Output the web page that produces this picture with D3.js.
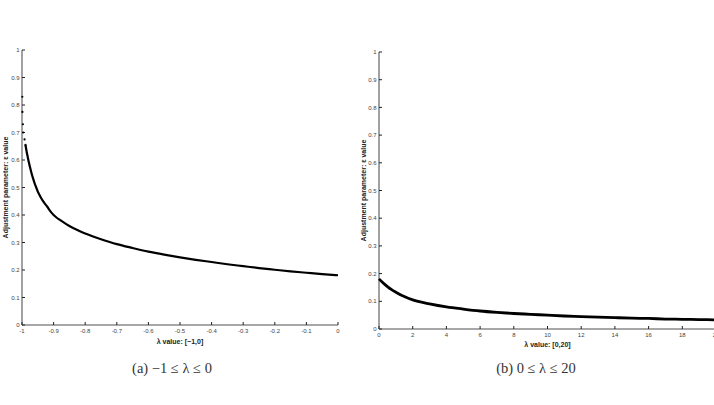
<!DOCTYPE html>
<html><head><meta charset="utf-8">
<script src="https://cdn.jsdelivr.net/npm/d3@7"></script>
<style>body{margin:0;background:#fff}svg{display:block}</style>
</head><body>
<svg id="c" width="714" height="405"></svg>
<script>
// ---- data ----
const leftSparseLambda = [-0.999, -0.9986, -0.997, -0.996, -0.992, -0.989];
const leftSparseValue  = [0.83, 0.775, 0.73, 0.70, 0.675, 0.655];
const leftLambda = [-0.989, -0.987, -0.985, -0.982, -0.98, -0.977, -0.973, -0.97, -0.965, -0.96, -0.955, -0.95, -0.945, -0.94, -0.93, -0.92, -0.91, -0.90, -0.89, -0.88, -0.86, -0.84, -0.82, -0.80, -0.775, -0.75, -0.70, -0.65, -0.60, -0.55, -0.50, -0.45, -0.40, -0.35, -0.30, -0.25, -0.20, -0.15, -0.10, -0.05, 0];
const leftValue  = [0.655, 0.642, 0.628, 0.612, 0.60, 0.585, 0.566, 0.553, 0.533, 0.515, 0.50, 0.485, 0.474, 0.463, 0.445, 0.43, 0.413, 0.40, 0.39, 0.382, 0.367, 0.354, 0.343, 0.333, 0.322, 0.312, 0.294, 0.28, 0.267, 0.256, 0.246, 0.237, 0.229, 0.221, 0.214, 0.207, 0.201, 0.195, 0.19, 0.185, 0.181];
const rightLambda = [0, 0.25, 0.5, 0.75, 1, 1.5, 2, 3, 4, 5, 6, 7, 8, 9, 10, 11, 12, 13, 14, 15, 16, 17, 18, 19, 20];
const rightValue  = [0.181, 0.166, 0.153, 0.142, 0.133, 0.117, 0.105, 0.091, 0.080, 0.072, 0.065, 0.060, 0.056, 0.053, 0.050, 0.047, 0.045, 0.043, 0.041, 0.039, 0.038, 0.036, 0.035, 0.034, 0.033];
const leftXTicks  = [-1, -0.9, -0.8, -0.7, -0.6, -0.5, -0.4, -0.3, -0.2, -0.1, 0];
const rightXTicks = [0, 2, 4, 6, 8, 10, 12, 14, 16, 18, 20];
const yTicks = [0, 0.1, 0.2, 0.3, 0.4, 0.5, 0.6, 0.7, 0.8, 0.9, 1];
const yTitle = "Adjustment parameter: \u03b5 value";
const leftXTitle = "\u03bb  value: [\u22121,0]";
const rightXTitle = "\u03bb  value: [0,20]";
const leftCaption = "(a)  \u22121 \u2264 \u03bb \u2264 0";
const rightCaption = "(b)  0 \u2264 \u03bb \u2264 20";

const SANS = "'Liberation Sans', Arial, Helvetica, sans-serif";
const SERIF = "'Liberation Serif', 'Times New Roman', serif";
const svg = d3.select("#c");

function panel(cfg) {
  const x = d3.scaleLinear().domain(cfg.xDomain).range(cfg.xRange);
  const y = d3.scaleLinear().domain([0, 1]).range(cfg.yRange);
  const g = svg.append("g");
  const fmt = v => (Math.round(v * 10) / 10).toString();

  g.append("line").attr("x1", x.range()[0]).attr("x2", cfg.xAxisEnd)
    .attr("y1", y(0)).attr("y2", y(0)).attr("stroke", "#8a8a8a").attr("stroke-width", 1.6);
  g.append("line").attr("x1", x.range()[0]).attr("x2", x.range()[0])
    .attr("y1", y(0)).attr("y2", y(1)).attr("stroke", "#8a8a8a").attr("stroke-width", 1.6);

  g.selectAll(".xt").data(cfg.xTicks).enter().append("line")
    .attr("x1", d => x(d)).attr("x2", d => x(d)).attr("y1", y(0)).attr("y2", y(0) - 3)
    .attr("stroke", "#222").attr("stroke-width", 1);
  g.selectAll(".xl").data(cfg.xTicks).enter().append("text")
    .attr("x", d => x(d)).attr("y", y(0) + 8.3).attr("text-anchor", "middle")
    .attr("font-family", SANS).attr("font-size", 6).attr("fill", "#444")
    .text(d => fmt(d));
  g.selectAll(".yt").data(yTicks).enter().append("line")
    .attr("x1", x.range()[0]).attr("x2", x.range()[0] + 3).attr("y1", d => y(d)).attr("y2", d => y(d))
    .attr("stroke", "#222").attr("stroke-width", 1);
  g.selectAll(".yl").data(yTicks).enter().append("text")
    .attr("x", x.range()[0] - 2.5).attr("y", d => y(d) + 2.1).attr("text-anchor", "end")
    .attr("font-family", SANS).attr("font-size", 6).attr("fill", "#444")
    .text(d => fmt(d));

  g.append("text").attr("x", (x.range()[0] + x.range()[1]) / 2).attr("y", cfg.xTitleY)
    .attr("text-anchor", "middle").attr("font-family", SANS)
    .attr("font-size", 7).attr("font-weight", "bold").attr("fill", "#222").text(cfg.xTitle);
  g.append("text").attr("transform", `translate(${cfg.yTitleX},${(y(0) + y(1)) / 2}) rotate(-90)`)
    .attr("text-anchor", "middle").attr("font-family", SANS)
    .attr("font-size", 7).attr("font-weight", "bold").attr("fill", "#222").text(yTitle);

  const pts = cfg.lam.map((l, i) => [l, cfg.val[i]]);
  g.append("path").datum(pts)
    .attr("d", d3.line().x(d => x(d[0])).y(d => y(d[1])).curve(d3.curveMonotoneX))
    .attr("fill", "none").attr("stroke", "#000").attr("stroke-width", cfg.lw);
  if (cfg.sLam) {
    g.selectAll(".sp").data(cfg.sLam.map((l, i) => [l, cfg.sVal[i]])).enter().append("circle")
      .attr("cx", d => x(d[0])).attr("cy", d => y(d[1])).attr("r", 1.1).attr("fill", "#000");
  }
  svg.append("text").attr("x", cfg.capX).attr("y", cfg.capY).attr("text-anchor", "middle")
    .attr("font-family", SERIF).attr("font-size", 14.5)
    .attr("fill", "#333").text(cfg.caption);
}

panel({xDomain: [-1, 0], xRange: [22, 338], xAxisEnd: 338, yRange: [325, 50], xTicks: leftXTicks,
  xTitle: leftXTitle, xTitleY: 343.5, yTitleX: 8, lam: leftLambda, val: leftValue, lw: 2.2,
  sLam: leftSparseLambda, sVal: leftSparseValue, caption: leftCaption, capX: 172, capY: 373});
panel({xDomain: [0, 20], xRange: [379, 716], xAxisEnd: 716, yRange: [329, 52], xTicks: rightXTicks,
  xTitle: rightXTitle, xTitleY: 346.5, yTitleX: 366, lam: rightLambda, val: rightValue, lw: 2.8,
  caption: rightCaption, capX: 536, capY: 373});
</script>
</body></html>
